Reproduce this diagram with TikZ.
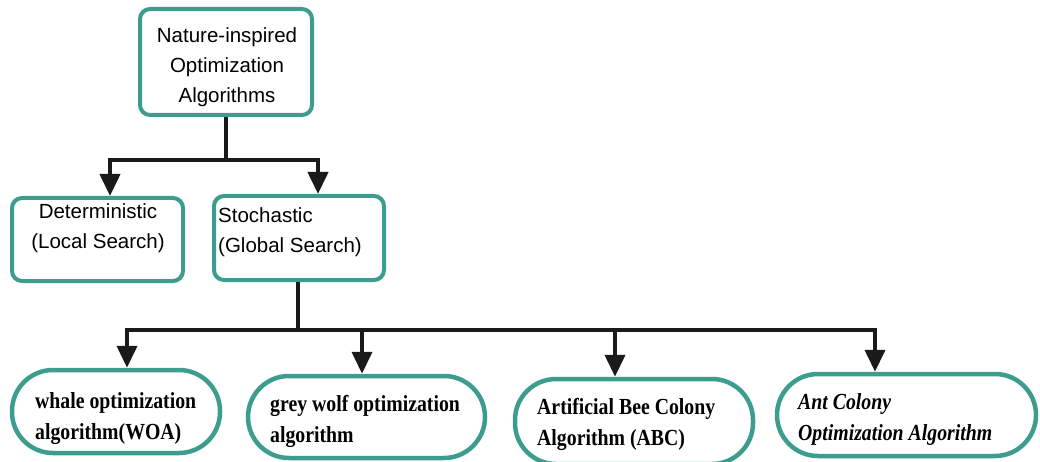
\documentclass[tikz,border=0pt]{standalone}
\usepackage{fontspec}
\setmainfont{Liberation Sans}
\newfontfamily\algfont[FakeStretch=0.86]{Liberation Serif}
\usetikzlibrary{arrows.meta}
\definecolor{boxteal}{HTML}{3C9D8E}
\definecolor{linegray}{HTML}{1A1A1A}
\begin{document}
\begin{tikzpicture}[x=1pt,y=-1pt,
    catbox/.style={draw=boxteal,line width=4pt,rounded corners=10pt,fill=white,inner sep=0pt},
    algbox/.style={draw=boxteal,line width=4.5pt,rounded corners=41pt,fill=white,inner sep=0pt},
    conn/.style={draw=linegray,line width=4pt},
    arr/.style={conn,-{Triangle[width=20pt,length=22pt]}},
    sanstext/.style={font=\fontsize{20.5}{30}\selectfont,inner sep=0pt},
    algtext/.style={font=\algfont\bfseries\fontsize{23}{31}\selectfont,inner sep=0pt,align=left,anchor=north west}]
    \useasboundingbox (0,0) rectangle (1040,462);
    % top
    \node[catbox,minimum width=172pt,minimum height=106pt] (nio) at (226,62) {};
    \node[sanstext,align=center,anchor=north] (niotxt) at (227,27) {Nature-inspired\\Optimization\\Algorithms};
    % second row
    \node[catbox,minimum width=171pt,minimum height=83pt] (det) at (97.5,239.5) {};
    \node[sanstext,align=center,anchor=north] (dettxt) at (98,203) {Deterministic\\(Local Search)};
    \node[catbox,minimum width=170pt,minimum height=84pt] (sto) at (299,238) {};
    \node[sanstext,align=left,anchor=north west] (stotxt) at (218,207) {Stochastic\\(Global Search)};
    % algorithms
    \node[algbox,minimum width=208pt,minimum height=83pt] (woa) at (116,411.5) {};
    \node[algtext] (woatxt) at (35,392) {whale optimization\\algorithm(WOA)};
    \node[algbox,minimum width=237pt,minimum height=82pt] (gwo) at (366.5,417) {};
    \node[algtext] (gwotxt) at (270,395) {grey wolf optimization\\algorithm};
    \node[algbox,minimum width=238pt,minimum height=85pt] (abc) at (634,421.5) {};
    \node[algtext] (abctxt) at (537,398) {Artificial Bee Colony\\Algorithm (ABC)};
    \node[algbox,minimum width=259pt,minimum height=82pt] (aco) at (906.5,415) {};
    \node[algtext,font=\algfont\bfseries\itshape\fontsize{23}{31}\selectfont] (acotxt) at (798,393) {Ant Colony\\Optimization Algorithm};
    % connectors
    \coordinate (bus1) at (nio.south |- 0,160);
    \draw[conn] (nio.south) -- (bus1);
    \draw[arr] (bus1) -| ([xshift=12.5pt]det.north);
    \draw[arr] (bus1) -| ([xshift=19pt]sto.north);
    \coordinate (bus2) at ([xshift=-1pt]sto.south |- 0,330);
    \draw[conn] ([xshift=-1pt]sto.south) -- (bus2);
    \draw[arr] (bus2) -| ([xshift=11pt]woa.north);
    \draw[arr] (bus2) -| ([xshift=-4.5pt]gwo.north);
    \draw[arr] (bus2) -| ([xshift=-19pt]abc.north);
    \draw[arr] (bus2) -| ([xshift=-31.5pt]aco.north);
\end{tikzpicture}
\end{document}
